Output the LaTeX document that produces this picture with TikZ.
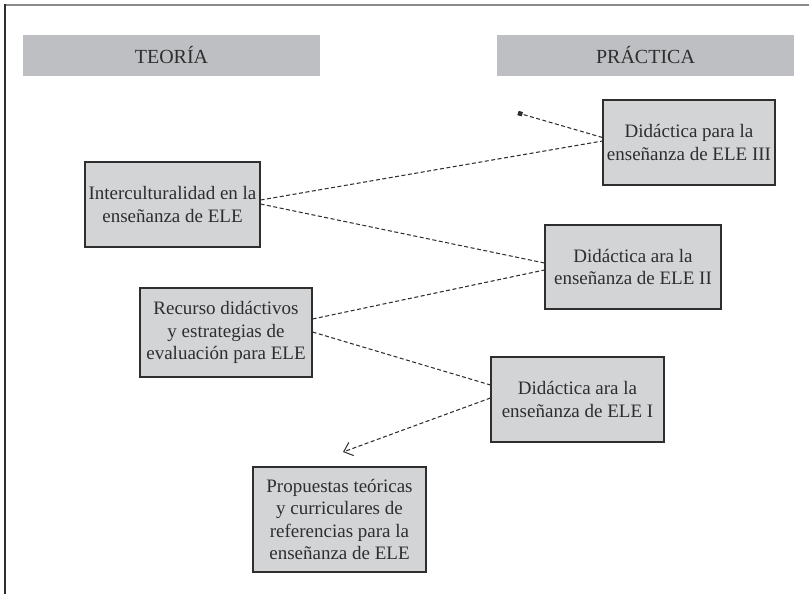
\documentclass[tikz,border=0pt]{standalone}
\usepackage{fontspec}
\setmainfont{Liberation Serif}
\usetikzlibrary{arrows.meta}
\definecolor{headfill}{HTML}{BEBFC2}
\definecolor{boxfill}{HTML}{D3D4D6}
\definecolor{ink}{HTML}{2E2E2E}
\definecolor{rule}{HTML}{8A8A8A}
\begin{document}
\begin{tikzpicture}[x=1pt,y=-1pt,
  header/.style={fill=headfill, draw=none, minimum width=297pt, minimum height=41pt,
    inner sep=0pt, text=ink, font=\fontsize{20}{24}\selectfont},
  topic/.style={fill=boxfill, draw=ink, line width=1.1pt, inner sep=0pt, align=center,
    text=ink, font=\fontsize{19}{22.5}\selectfont},
  link/.style={draw=ink, line width=1.05pt, dash pattern=on 4pt off 2.5pt}]
\useasboundingbox (0,0) rectangle (809,594);

% open frame: top and left rules
\draw[rule, line width=1.5pt] (4,5) -- (809,5);
\draw[ink, line width=1.6pt] (5,4.25) -- (5,594);

% column headers
\node[header] (teoria) at (171.5,55.5) {TEORÍA};
\node[header] (practica) at (645.5,55.5) {PRÁCTICA};

% course boxes
\node[topic, minimum width=172pt, minimum height=85pt] (eleiii) at (689,142.5)
  {Didáctica para la\\enseñanza de ELE III};
\node[topic, minimum width=175pt, minimum height=85pt] (inter) at (172.5,204.5)
  {Interculturalidad en la\\enseñanza de ELE};
\node[topic, minimum width=176pt, minimum height=84pt] (eleii) at (633,267)
  {Didáctica ara la\\enseñanza de ELE II};
\node[topic, minimum width=172pt, minimum height=89pt] (recurso) at (226,332.5)
  {Recurso didáctivos\\y estrategias de\\evaluación para ELE};
\node[topic, minimum width=173pt, minimum height=85pt] (elei) at (577.5,399.5)
  {Didáctica ara la\\enseñanza de ELE I};
\node[topic, minimum width=173pt, minimum height=105pt] (prop) at (339.5,519.5)
  {Propuestas teóricas\\y curriculares de\\referencias para la\\enseñanza de ELE};

% free ends of the two open connectors
\coordinate (sq) at (518,113);
\coordinate (tip) at (343,452);

% dashed connectors
\draw[link, -{Square[length=4.5pt,width=4.5pt]}] ([yshift=5pt]eleiii.west) -- (sq);
\draw[link] ([yshift=4.5pt]inter.east) -- ([yshift=1.5pt]eleiii.west);
\draw[link] ([yshift=0.5pt]inter.east) -- ([yshift=4pt]eleii.west);
\draw[link] ([yshift=13.5pt]recurso.east) -- ([yshift=-3pt]eleii.west);
\draw[link] ([yshift=0.5pt]recurso.east) -- ([yshift=14.5pt]elei.west);
\draw[link, -{Straight Barb[length=8pt,width=14pt,line width=1pt]}]
  ([yshift=1.5pt]elei.west) -- (tip);
\end{tikzpicture}
\end{document}
